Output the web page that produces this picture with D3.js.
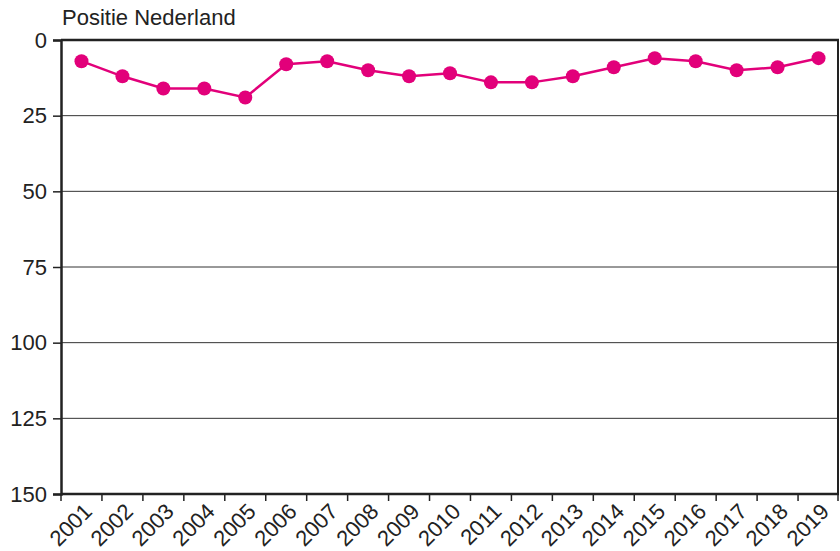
<!DOCTYPE html>
<html><head><meta charset="utf-8">
<script src="https://cdn.jsdelivr.net/npm/d3@7"></script>
<style>body{margin:0;background:#fff}svg{display:block}text{font-family:"Liberation Sans",Arial,sans-serif;fill:#222}</style>
</head><body>
<svg id="c" width="840" height="551"></svg>
<script>
const years = ["2001","2002","2003","2004","2005","2006","2007","2008","2009","2010","2011","2012","2013","2014","2015","2016","2017","2018","2019"];
const positie = [7,12,16,16,19,8,7,10,12,11,14,14,12,9,6,7,10,9,6];
const yTicks = [0,25,50,75,100,125,150];
const yTitle = "Positie Nederland";

const svg = d3.select("#c");
const L = 61, R = 839, T = 40, B = 494;
const x = d3.scaleBand().domain(years).range([L, R]);
const y = d3.scaleLinear().domain([0,150]).range([T, B]);
const col = "#e2007a";
const fs = 22;

// gridlines
svg.append("g").selectAll("line").data(yTicks.filter(d=>d>0&&d<150)).join("line")
  .attr("x1",L).attr("x2",R).attr("y1",d=>y(d)).attr("y2",d=>y(d))
  .attr("stroke","#333").attr("stroke-width",1);
// frame
svg.append("line").attr("x1",L).attr("x2",R).attr("y1",T).attr("y2",T).attr("stroke","#222").attr("stroke-width",2.5);
svg.append("line").attr("x1",R-1).attr("x2",R-1).attr("y1",T).attr("y2",B).attr("stroke","#222").attr("stroke-width",2);

// y axis
const ya = svg.append("g").attr("transform",`translate(${L},0)`)
  .call(d3.axisLeft(y).tickValues(yTicks).tickSize(8).tickPadding(6));
ya.select(".domain").attr("stroke","#222").attr("stroke-width",2.5);
ya.selectAll(".tick line").attr("stroke","#222").attr("stroke-width",1.5);
ya.selectAll(".tick text").attr("font-size",fs).attr("fill","#222").attr("font-family","Liberation Sans, Arial, sans-serif");

// x axis
const xa = svg.append("g").attr("transform",`translate(0,${B})`)
  .call(d3.axisBottom(x).tickSize(0).tickFormat(""));
xa.select(".domain").remove();
svg.append("line").attr("x1",L).attr("x2",R).attr("y1",B).attr("y2",B).attr("stroke","#222").attr("stroke-width",2.5);
const bounds = years.map(d=>x(d)).concat([R-1]);
svg.append("g").selectAll("line").data(bounds).join("line")
  .attr("x1",d=>d).attr("x2",d=>d).attr("y1",B).attr("y2",B+7)
  .attr("stroke","#222").attr("stroke-width",1.5);
svg.append("g").selectAll("text").data(years).join("text")
  .attr("transform",d=>`translate(${x(d)+x.bandwidth()/2+1},${B+8}) rotate(-45)`)
  .attr("text-anchor","end").attr("dy","0.7em").attr("font-size",fs).text(d=>d);

// title
svg.append("text").attr("x",62).attr("y",25).attr("font-size",fs).text(yTitle);

// line + points
const cx = d=>x(d)+x.bandwidth()/2;
svg.append("path").datum(years.map((d,i)=>[cx(d),y(positie[i])]))
  .attr("d",d3.line()).attr("fill","none").attr("stroke",col).attr("stroke-width",2.5);
svg.append("g").selectAll("circle").data(years).join("circle")
  .attr("cx",cx).attr("cy",(d,i)=>y(positie[i])).attr("r",7).attr("fill",col);
</script>
</body></html>
